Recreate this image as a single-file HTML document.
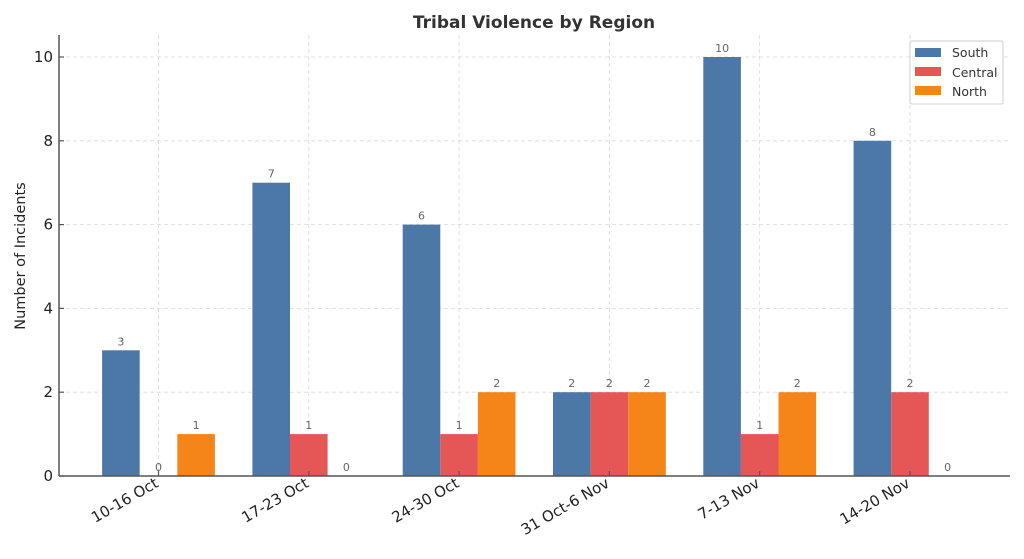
<!DOCTYPE html>
<html><head><meta charset="utf-8"><style>body{margin:0;background:#fff}svg{display:block}text{font-family:"DejaVu Sans","Liberation Sans",sans-serif}</style></head>
<body>
<svg width="1024" height="559" xmlns="http://www.w3.org/2000/svg">
<text x="534" y="28" text-anchor="middle" font-size="17" font-weight="bold" fill="#333">Tribal Violence by Region</text>
<g id="grid" stroke="#d9d9d9" stroke-width="0.8" stroke-dasharray="4,3"></g>
<g id="bars"></g>
<line x1="59" y1="35" x2="59" y2="476" stroke="#555" stroke-width="1.5"/>
<line x1="59" y1="476" x2="1010" y2="476" stroke="#555" stroke-width="1.5"/>
<g id="ticks" font-size="15" fill="#222"></g>
<text transform="translate(25,256) rotate(-90)" text-anchor="middle" font-size="14.5" fill="#222">Number of Incidents</text>
<g>
<rect x="910" y="41" width="93" height="63" fill="#fff" stroke="#ccc" rx="2"/>
<rect x="915" y="48" width="26" height="9" fill="#4c78a8"/>
<rect x="915" y="67" width="26" height="9" fill="#e45756"/>
<rect x="915" y="86" width="26" height="9" fill="#f58518"/>
<text x="952" y="57" font-size="12.5" fill="#333">South</text>
<text x="952" y="77" font-size="12.5" fill="#333">Central</text>
<text x="952" y="96" font-size="12.5" fill="#333">North</text>
</g>
<script>
var ns="http://www.w3.org/2000/svg";
function el(p,t,a,txt){var e=document.createElementNS(ns,t);for(var k in a)e.setAttribute(k,a[k]);if(txt!==undefined)e.textContent=txt;document.getElementById(p).appendChild(e);return e;}
function Y(v){return 476-41.9*v;}
var S=[3,7,6,2,10,8],C=[0,1,1,2,1,2],N=[1,0,2,2,2,0];
var L=["10-16 Oct","17-23 Oct","24-30 Oct","31 Oct-6 Nov","7-13 Nov","14-20 Nov"];
var cols=["#4c78a8","#e45756","#f58518"];
for(var v=0;v<=10;v+=2){if(v>0)el("grid","line",{x1:59,x2:1010,y1:Y(v),y2:Y(v)});
el("ticks","line",{x1:59,x2:64,y1:Y(v),y2:Y(v),stroke:"#555","stroke-width":1.2});
el("ticks","text",{x:53,y:Y(v)+5,"text-anchor":"end"},v);}
for(var i=0;i<6;i++){var c=158.5+150.3*i;
el("grid","line",{x1:c,x2:c,y1:35,y2:476});
el("ticks","line",{x1:c,x2:c,y1:471,y2:476,stroke:"#555","stroke-width":1.2});
el("ticks","text",{x:0,y:0,"text-anchor":"end",transform:"translate("+(c+1)+",486) rotate(-30)"},L[i]);
var d=[S[i],C[i],N[i]];
for(var j=0;j<3;j++){var x=c-56.4+37.6*j;
if(d[j]>0)el("bars","rect",{x:x,y:Y(d[j]),width:37.6,height:476-Y(d[j]),fill:cols[j]});
el("bars","text",{x:x+18.8,y:Y(d[j])-5,"text-anchor":"middle","font-size":"11",fill:"#666"},d[j]);}}
</script>
</svg>
</body></html>
